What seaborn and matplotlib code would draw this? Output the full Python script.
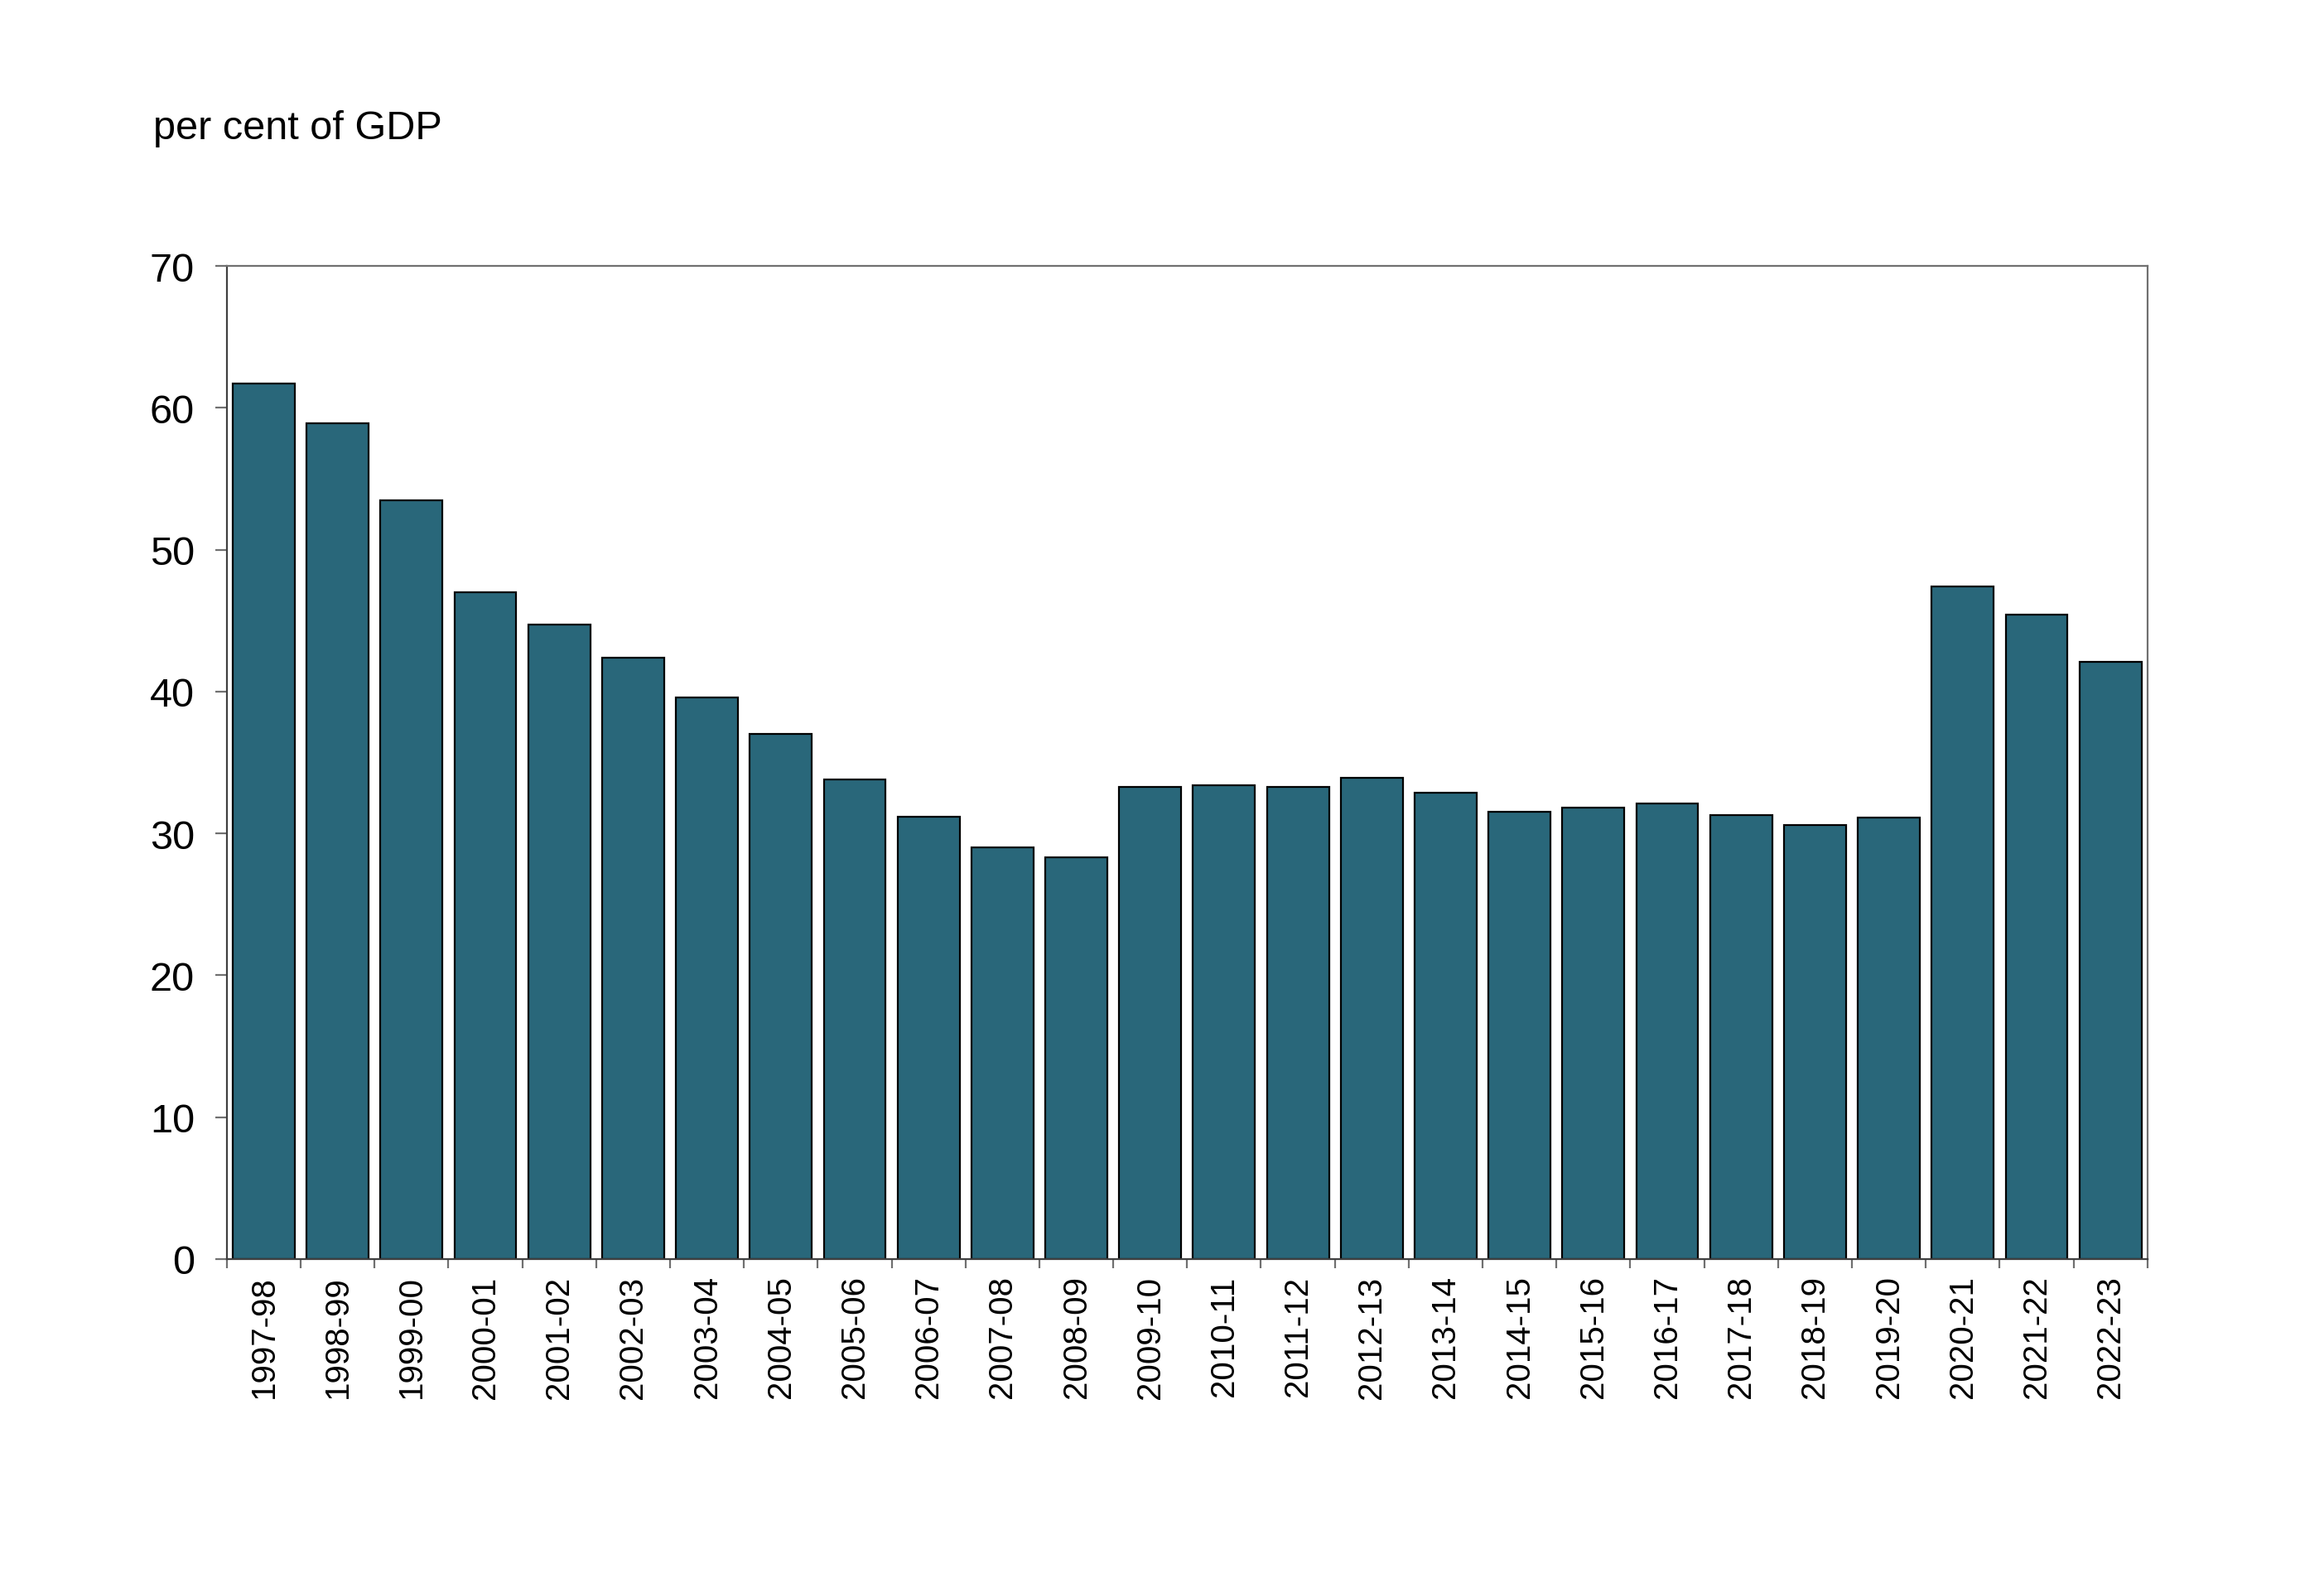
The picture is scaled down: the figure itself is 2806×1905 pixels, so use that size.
import numpy as np
import pandas as pd
from matplotlib import pyplot as plt
from matplotlib.ticker import FixedLocator
import seaborn as sns

years = ['1997-98', '1998-99', '1999-00', '2000-01', '2001-02', '2002-03',
         '2003-04', '2004-05', '2005-06', '2006-07', '2007-08', '2008-09',
         '2009-10', '2010-11', '2011-12', '2012-13', '2013-14', '2014-15',
         '2015-16', '2016-17', '2017-18', '2018-19', '2019-20', '2020-21',
         '2021-22', '2022-23']
debt_pct_gdp = [61.7, 58.9, 53.5, 47.0, 44.7, 42.4, 39.6, 37.0, 33.8, 31.2,
                29.0, 28.3, 33.3, 33.4, 33.3, 33.9, 32.9, 31.5, 31.8, 32.1,
                31.3, 30.6, 31.1, 47.4, 45.4, 42.1]
y_ticks = [0, 10, 20, 30, 40, 50, 60, 70]

BAR_COLOR = '#29677A'
SPINE_COLOR = '#707070'

sns.set_style('white', rc={'text.color': 'black', 'xtick.color': 'black',
                           'ytick.color': 'black'})
plt.rcParams['font.family'] = ['Liberation Sans', 'DejaVu Sans']

df = pd.DataFrame({'year': years, 'value': debt_pct_gdp})

fig = plt.figure(figsize=(14.03, 9.53), dpi=200)
ax = fig.add_axes([0.0976, 0.202, 0.924 - 0.0976, 0.831 - 0.202])

sns.barplot(data=df, x='year', y='value', order=years, color=BAR_COLOR,
            saturation=1, width=0.84, edgecolor='black', linewidth=0.8, ax=ax)

ax.set_xlim(-0.5, len(years) - 0.5)
ax.set_ylim(0, 70)
ax.set_yticks(y_ticks)
ax.set_yticklabels([str(t) for t in y_ticks], fontsize=17.5, color='black')
ax.set_xticks(range(len(years)))
ax.set_xticklabels(years, rotation=90, fontsize=14.5, color='black')
ax.xaxis.set_minor_locator(FixedLocator(np.arange(-0.5, len(years), 1.0)))
ax.tick_params(axis='x', which='major', length=0, pad=7)
ax.tick_params(axis='x', which='minor', length=4, width=0.8, color=SPINE_COLOR, direction='out', bottom=True)
ax.tick_params(axis='y', which='major', length=5, width=0.8, color=SPINE_COLOR, direction='out', left=True, pad=9)
ax.set_xlabel('')
ax.set_ylabel('')

for side in ['left', 'top', 'right', 'bottom']:
    ax.spines[side].set_visible(True)
    ax.spines[side].set_color(SPINE_COLOR)
    ax.spines[side].set_linewidth(0.8)
ax.spines['bottom'].set_color('#404040')
ax.spines['left'].set_color('#404040')

fig.text(0.066, 0.912, 'per cent of GDP', fontsize=17.5, color='black',
         va='baseline', ha='left')

fig.savefig('out.png', dpi=200, facecolor='white')
